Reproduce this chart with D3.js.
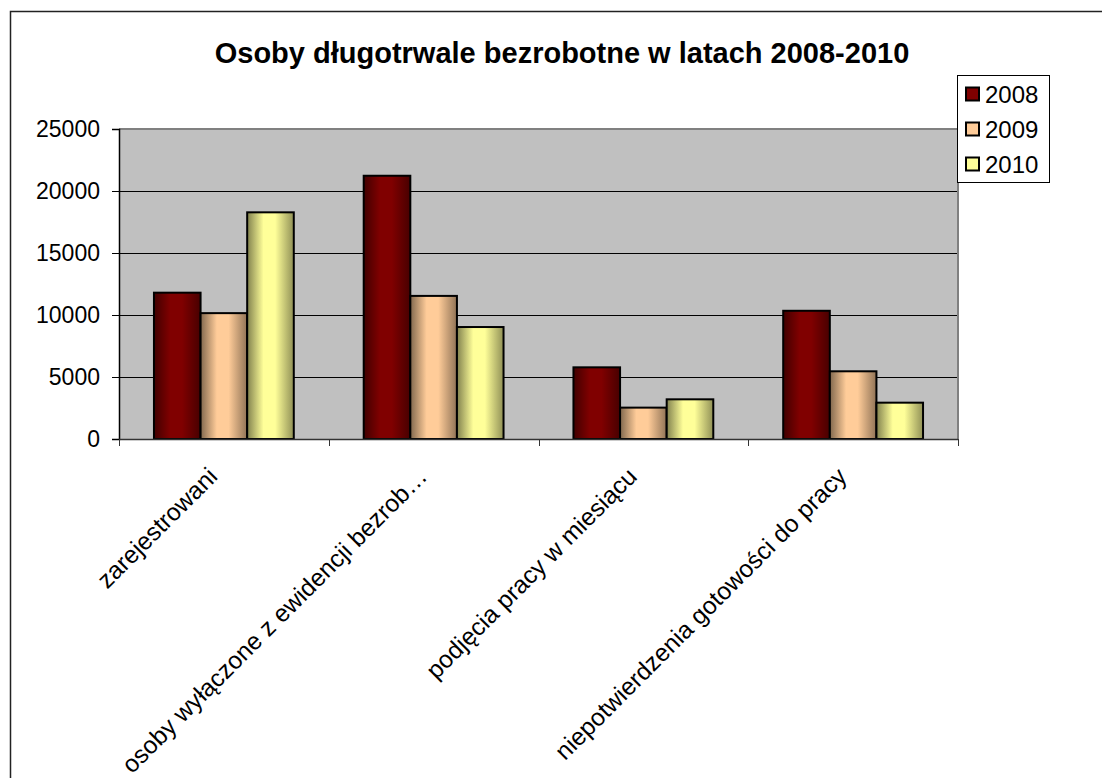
<!DOCTYPE html>
<html>
<head>
<meta charset="utf-8">
<script src="https://cdn.jsdelivr.net/npm/d3@7"></script>
<style>
  body { margin: 0; background: #fff; }
  text { font-family: "Liberation Sans", Arial, sans-serif; }
</style>
</head>
<body>
<div id="chart"></div>
<script>
// dane
var categories = ['zarejestrowani', 'osoby wyłączone z ewidencji bezrob…', 'podjęcia pracy w miesiącu', 'niepotwierdzenia gotowości do pracy'];
var years = ['2008', '2009', '2010'];
var values2008 = [11800, 21230, 5780, 10340];
var values2009 = [10150, 11540, 2530, 5460];
var values2010 = [18280, 9030, 3200, 2930];
var yTicks = [0, 5000, 10000, 15000, 20000, 25000];
var title = 'Osoby długotrwale bezrobotne w latach 2008-2010';

var colors = { '2008': '#800000', '2009': '#ffcc99', '2010': '#ffff99' };
var series = { '2008': values2008, '2009': values2009, '2010': values2010 };

var width = 1102, height = 778;
var plot = { left: 119, right: 958, top: 129, bottom: 439 };

var svg = d3.select('#chart').append('svg')
    .attr('width', width)
    .attr('height', height);

// gradienty dla słupków
var defs = svg.append('defs');
years.forEach(function (yr) {
    var c = d3.rgb(colors[yr]);
    var g = defs.append('linearGradient')
        .attr('id', 'grad' + yr)
        .attr('x1', 0).attr('x2', 1).attr('y1', 0).attr('y2', 0);
    g.append('stop').attr('offset', '0%').attr('stop-color', c.darker(1.9));
    g.append('stop').attr('offset', '35%').attr('stop-color', c);
    g.append('stop').attr('offset', '60%').attr('stop-color', c);
    g.append('stop').attr('offset', '100%').attr('stop-color', c.darker(1.6));
});

// ramka
svg.append('rect')
    .attr('x', 10.5).attr('y', 11.5)
    .attr('width', 1200).attr('height', 1000)
    .attr('fill', 'none')
    .attr('stroke', '#222')
    .attr('stroke-width', 1.5);

// skale
var x0 = d3.scaleBand()
    .domain(categories)
    .range([plot.left, plot.right]);

var x1 = d3.scaleBand()
    .domain(years)
    .range([0, x0.bandwidth()])
    .paddingInner(0)
    .paddingOuter(0.75);

var y = d3.scaleLinear()
    .domain([0, 25000])
    .range([plot.bottom, plot.top]);

// tło wykresu
svg.append('rect')
    .attr('x', plot.left).attr('y', plot.top)
    .attr('width', plot.right - plot.left)
    .attr('height', plot.bottom - plot.top)
    .attr('fill', '#c0c0c0');

// linie siatki
svg.append('g')
    .selectAll('line')
    .data(yTicks.slice(1, -1))
    .enter().append('line')
    .attr('x1', plot.left).attr('x2', plot.right)
    .attr('y1', function (d) { return Math.round(y(d)) + 0.5; })
    .attr('y2', function (d) { return Math.round(y(d)) + 0.5; })
    .attr('stroke', '#000')
    .attr('stroke-width', 1);

// obramowanie obszaru wykresu (góra, prawo)
svg.append('path')
    .attr('d', 'M' + plot.left + ',' + plot.top + 'H' + plot.right + 'V' + plot.bottom)
    .attr('fill', 'none')
    .attr('stroke', '#808080')
    .attr('stroke-width', 2);

// słupki
var groups = svg.append('g')
    .selectAll('g')
    .data(categories)
    .enter().append('g')
    .attr('transform', function (d) { return 'translate(' + x0(d) + ',0)'; });

groups.selectAll('rect')
    .data(function (d, i) {
        return years.map(function (yr) { return { year: yr, value: series[yr][i] }; });
    })
    .enter().append('rect')
    .attr('x', function (d) { return x1(d.year); })
    .attr('y', function (d) { return y(d.value); })
    .attr('width', x1.bandwidth())
    .attr('height', function (d) { return y(0) - y(d.value); })
    .attr('fill', function (d) { return 'url(#grad' + d.year + ')'; })
    .attr('stroke', '#000')
    .attr('stroke-width', 2);

// oś Y
var yAxis = svg.append('g')
    .attr('transform', 'translate(' + plot.left + ',0)')
    .call(d3.axisLeft(y).tickValues(yTicks).tickSize(7).tickPadding(12).tickFormat(d3.format('d')));
yAxis.select('.domain').attr('stroke', '#000').attr('stroke-width', 1.5);
yAxis.selectAll('.tick line').attr('stroke', '#000');
yAxis.selectAll('.tick text')
    .attr('fill', '#000')
    .style('font-size', '23px')
    .style('font-family', '"Liberation Sans", Arial, sans-serif');

// oś X
var xAxis = svg.append('g')
    .attr('transform', 'translate(0,' + plot.bottom + ')');
xAxis.append('line')
    .attr('x1', plot.left).attr('x2', plot.right)
    .attr('y1', 0.5).attr('y2', 0.5)
    .attr('stroke', '#333').attr('stroke-width', 1.5);
var bounds = categories.map(function (c) { return x0(c); }).concat([plot.right]);
xAxis.selectAll('.xtick')
    .data(bounds)
    .enter().append('line')
    .attr('x1', function (d) { return Math.round(d) + 0.5; })
    .attr('x2', function (d) { return Math.round(d) + 0.5; })
    .attr('y1', 0).attr('y2', 7)
    .attr('stroke', '#333');

xAxis.selectAll('.xlabel')
    .data(categories)
    .enter().append('text')
    .attr('text-anchor', 'end')
    .attr('transform', function (d) {
        var cx = x0(d) + x0.bandwidth() / 2 - 5;
        return 'translate(' + cx + ',39) rotate(-45)';
    })
    .style('font-size', '24.5px')
    .attr('fill', '#000')
    .text(function (d) { return d; });

// tytuł
svg.append('text')
    .attr('x', 562)
    .attr('y', 63)
    .attr('text-anchor', 'middle')
    .style('font-size', '29px')
    .style('font-weight', 'bold')
    .attr('fill', '#000')
    .text(title);

// legenda
var legend = svg.append('g').attr('transform', 'translate(957,75)');
legend.append('rect')
    .attr('x', 0.5).attr('y', 0.5)
    .attr('width', 92).attr('height', 107)
    .attr('fill', '#fff')
    .attr('stroke', '#000');

var item = legend.selectAll('.item')
    .data(years)
    .enter().append('g')
    .attr('transform', function (d, i) { return 'translate(0,' + (19 + i * 35) + ')'; });

item.append('rect')
    .attr('x', 9).attr('y', -6.5)
    .attr('width', 13).attr('height', 13)
    .attr('fill', function (d) { return colors[d]; })
    .attr('stroke', '#000')
    .attr('stroke-width', 2);

item.append('text')
    .attr('x', 28)
    .attr('y', 8.5)
    .style('font-size', '24px')
    .attr('fill', '#000')
    .text(function (d) { return d; });
</script>
</body>
</html>
